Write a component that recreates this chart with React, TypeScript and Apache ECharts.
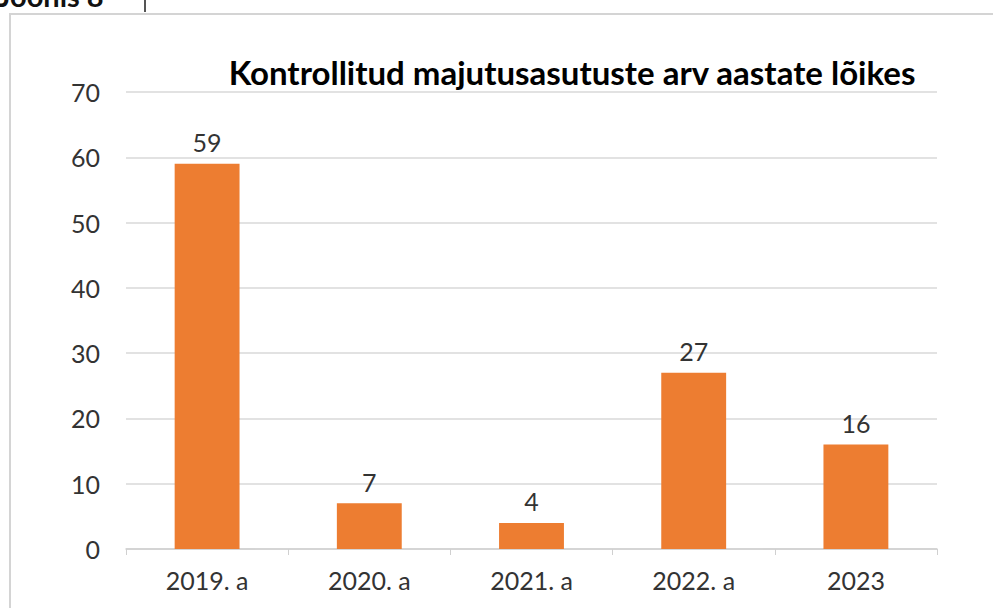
import React, { useEffect, useRef } from "react";
import * as echarts from "echarts";

const categories = ["2019. a", "2020. a", "2021. a", "2022. a", "2023"];
const values = [59, 7, 4, 27, 16];
const chartTitle = "Kontrollitud majutusasutuste arv aastate lõikes";
const figureLabel = "Joonis 8";

export default function App() {
  const ref = useRef<HTMLDivElement>(null);
  useEffect(() => {
    if (!ref.current) return;
    const chart = echarts.init(ref.current, null, { renderer: "svg" });
    const font = "Lato, 'Open Sans', sans-serif";
    chart.setOption({
      animation: false,
      backgroundColor: "#ffffff",
      title: {
        text: chartTitle,
        left: 567,
        textAlign: "center",
        top: 50,
        textStyle: { fontFamily: font, fontSize: 33, fontWeight: "bold", color: "#000000" },
      },
      graphic: [
        {
          type: "text",
          left: -2,
          top: -19,
          style: { text: figureLabel, fontFamily: font, fontSize: 29, fontWeight: "bold", fill: "#111" },
          z: 10,
        },
        {
          type: "line",
          shape: { x1: 145, y1: 0, x2: 145, y2: 12 },
          style: { stroke: "#555", lineWidth: 2 },
        },
        {
          type: "rect",
          shape: { x: 10, y: 14, width: 1000, height: 620 },
          style: { fill: "none", stroke: "#d4d4d4", lineWidth: 2 },
        },
      ],
      grid: { left: 126, right: 56, top: 92, bottom: 59 },
      xAxis: {
        type: "category",
        data: categories,
        axisLine: { lineStyle: { color: "#d0d0d0", width: 1.5 } },
        axisTick: { show: true, length: 6, lineStyle: { color: "#d0d0d0" } },
        axisLabel: { fontFamily: font, fontSize: 25, color: "#333", margin: 18 },
      },
      yAxis: {
        type: "value",
        min: 0,
        max: 70,
        interval: 10,
        splitLine: { lineStyle: { color: "#d9d9d9", width: 1.5 } },
        axisLine: { show: false },
        axisTick: { show: false },
        axisLabel: { fontFamily: font, fontSize: 25, color: "#333", margin: 26 },
      },
      series: [
        {
          type: "bar",
          data: values,
          barWidth: "40%",
          itemStyle: { color: "#ED7D31" },
          label: {
            show: true,
            position: "top",
            distance: 9,
            fontFamily: font,
            fontSize: 25,
            color: "#333",
          },
        },
      ],
    });
    return () => chart.dispose();
  }, []);
  return (
    <div
      ref={ref}
      style={{ position: "absolute", left: 0, top: 0, width: 993, height: 608 }}
    />
  );
}
